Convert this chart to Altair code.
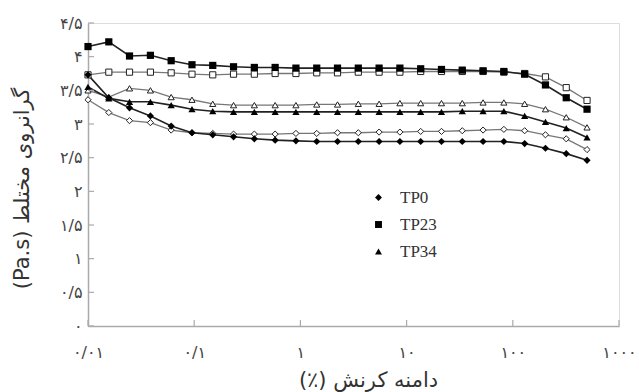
import altair as alt
import pandas as pd

# strain amplitude (%)
x_vals = [0.01, 0.0157, 0.0246, 0.0387, 0.0607, 0.0953, 0.1495, 0.2347, 0.3684,
          0.5783, 0.9077, 1.425, 2.236, 3.510, 5.509, 8.647, 13.57, 21.30, 33.44,
          52.49, 82.39, 129.3, 203.0, 318.6, 500.0]

tp0_filled = [3.73, 3.39, 3.24, 3.12, 2.97, 2.87, 2.84, 2.81, 2.78, 2.76, 2.75, 2.74, 2.74,
              2.74, 2.74, 2.74, 2.74, 2.74, 2.74, 2.74, 2.74, 2.71, 2.64, 2.56, 2.46]
tp0_open = [3.36, 3.17, 3.05, 3.02, 2.91, 2.87, 2.86, 2.85, 2.85, 2.85, 2.86, 2.86, 2.87,
            2.87, 2.88, 2.88, 2.89, 2.89, 2.90, 2.91, 2.92, 2.90, 2.84, 2.78, 2.62]
tp23_filled = [4.15, 4.22, 4.01, 4.02, 3.94, 3.88, 3.87, 3.85, 3.84, 3.84, 3.83, 3.83, 3.83,
               3.83, 3.83, 3.83, 3.82, 3.81, 3.80, 3.79, 3.78, 3.74, 3.58, 3.39, 3.22]
tp23_open = [3.73, 3.77, 3.77, 3.77, 3.76, 3.74, 3.73, 3.74, 3.74, 3.75, 3.75, 3.76, 3.76,
             3.77, 3.77, 3.77, 3.78, 3.78, 3.78, 3.78, 3.77, 3.75, 3.70, 3.54, 3.35]
tp34_filled = [3.55, 3.38, 3.33, 3.33, 3.28, 3.22, 3.19, 3.18, 3.18, 3.18, 3.18, 3.18, 3.18,
               3.18, 3.18, 3.18, 3.18, 3.18, 3.19, 3.19, 3.19, 3.12, 3.03, 2.94, 2.80]
tp34_open = [3.50, 3.40, 3.53, 3.50, 3.40, 3.36, 3.30, 3.28, 3.28, 3.28, 3.28, 3.29, 3.29,
             3.30, 3.30, 3.31, 3.31, 3.31, 3.31, 3.32, 3.32, 3.30, 3.22, 3.10, 2.95]

samples = ["TP0", "TP23", "TP34"]
shapes = ["diamond", "square", "triangle-up"]

y_ticks = [0, 0.5, 1, 1.5, 2, 2.5, 3, 3.5, 4, 4.5]
y_tick_labels = ["۰", "۰/۵", "۱", "۱/۵", "۲", "۲/۵", "۳", "۳/۵", "۴", "۴/۵"]
x_ticks = [0.01, 0.1, 1, 10, 100, 1000]
x_tick_labels = ["۰/۰۱", "۰/۱", "۱", "۱۰", "۱۰۰", "۱۰۰۰"]

y_title = "(Pa.s) گرانروی مختلط"
x_title = "(٪) دامنه کرنش"

series = [
    ("TP0", "filled", tp0_filled), ("TP0", "open", tp0_open),
    ("TP23", "filled", tp23_filled), ("TP23", "open", tp23_open),
    ("TP34", "filled", tp34_filled), ("TP34", "open", tp34_open),
]
rows = []
for s, k, ys in series:
    for xv, yv in zip(x_vals, ys):
        rows.append({"x": xv, "y": yv, "sample": s, "kind": k, "series": s + "_" + k})
df = pd.DataFrame(rows)


def label_expr(values, labels):
    expr = "''"
    for v, l in reversed(list(zip(values, labels))):
        expr = f"abs(datum.value - {v}) < {abs(v) * 0.01 + 1e-6} ? '{l}' : " + expr
    return expr


fa_font = "DejaVu Sans"

x_enc = alt.X("x:Q",
              scale=alt.Scale(type="log", domain=[0.01, 1000], nice=False),
              axis=alt.Axis(values=x_ticks, labelExpr=label_expr(x_ticks, x_tick_labels),
                            tickSize=0, grid=False, title=x_title, labelPadding=18,
                            labelFont=fa_font, labelFontSize=16, labelColor="#444",
                            titleFont=fa_font, titleFontSize=21, titleColor="#333",
                            titleFontWeight="normal", titleX=280, titleY=54,
                            titleBaseline="middle",
                            domainColor="#aaa", domainWidth=1.5, labelFlush=False))
y_enc = alt.Y("y:Q",
              scale=alt.Scale(domain=[0, 4.5], nice=False, zero=False),
              axis=alt.Axis(values=y_ticks, labelExpr=label_expr(y_ticks, y_tick_labels),
                            tickSize=0, grid=False, title=y_title, labelPadding=6,
                            labelFont=fa_font, labelFontSize=16, labelColor="#444",
                            titleFont=fa_font, titleFontSize=21, titleColor="#333",
                            titleFontWeight="normal", titleX=-66, titleY=165,
                            titleBaseline="middle", titleAngle=270,
                            domainColor="#aaa", domainWidth=1.5))

base = alt.Chart(df)

lines_filled = base.transform_filter("datum.kind == 'filled'").mark_line(
    color="#222", strokeWidth=1.6).encode(x=x_enc, y=y_enc, detail="series:N")
lines_open = base.transform_filter("datum.kind == 'open'").mark_line(
    color="#777", strokeWidth=1.3).encode(x=x_enc, y=y_enc, detail="series:N")

open_layers = []
for s, shp in zip(samples, shapes):
    open_layers.append(
        base.transform_filter(f"datum.kind == 'open' && datum.sample == '{s}'").mark_point(
            shape=shp, filled=True, fill="white", stroke="#222", strokeWidth=1, size=38, opacity=1
        ).encode(x=x_enc, y=y_enc)
    )

filled_pts = base.transform_filter("datum.kind == 'filled'").mark_point(
    filled=True, color="black", size=52, opacity=1
).encode(
    x=x_enc, y=y_enc,
    shape=alt.Shape("sample:N", scale=alt.Scale(domain=samples, range=shapes),
                    legend=alt.Legend(title=None, orient="none", legendX=282, legendY=166,
                                      labelFont="Liberation Serif, Times New Roman, serif",
                                      labelFontSize=17,
                                      labelColor="#333", symbolSize=48, rowPadding=9,
                                      symbolFillColor="black", symbolStrokeColor="black",
                                      labelOffset=13, padding=0))
)

ytick_df = pd.DataFrame({"y": y_ticks})
yticks = alt.Chart(ytick_df).mark_rule(color="#aaa", strokeWidth=1.2).encode(
    y=y_enc, x=alt.value(0), x2=alt.value(6))
xtick_df = pd.DataFrame({"x": x_ticks})
xticks = alt.Chart(xtick_df).mark_rule(color="#aaa", strokeWidth=1.2).encode(
    x=x_enc, y=alt.value(303), y2=alt.value(297))

chart = alt.layer(lines_open, lines_filled, *open_layers, filled_pts, yticks, xticks).properties(
    width=531, height=303,
    autosize=alt.AutoSizeParams(type="none"),
    padding={"left": 88, "top": 23, "right": 20, "bottom": 66},
).configure_view(stroke=None).configure(background="white")

chart.save("out.html", embed_options={"renderer": "svg", "actions": False})
